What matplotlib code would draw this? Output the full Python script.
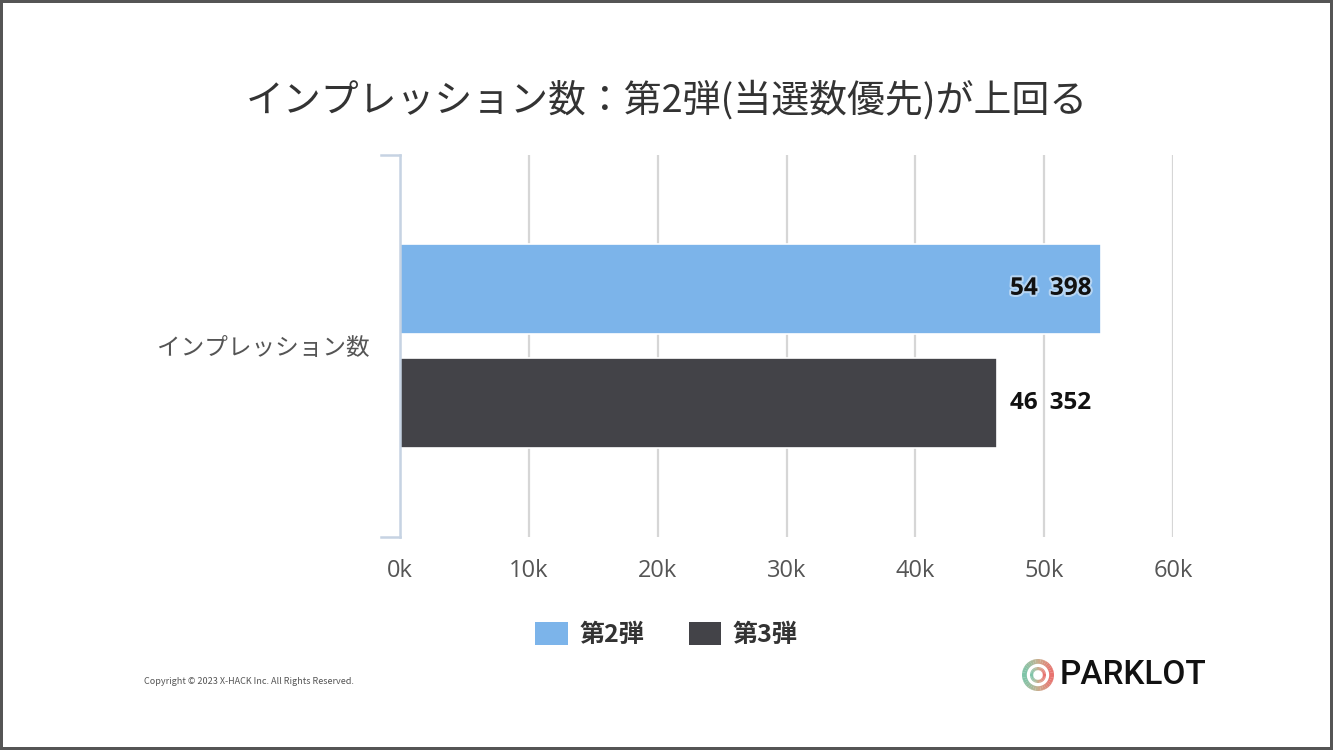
import matplotlib
matplotlib.use('Agg')
import matplotlib.pyplot as plt
import matplotlib.patheffects as pe
from matplotlib.patches import Patch, Wedge
import numpy as np

plt.rcParams['font.family'] = ['Noto Sans CJK JP', 'DejaVu Sans']

# データ
category = 'インプレッション数'
series_names = ['第2弾', '第3弾']
series_values = [54398, 46352]
series_colors = ['#7cb4ea', '#434348']
xticks = [0, 10000, 20000, 30000, 40000, 50000, 60000]
xtick_labels = ['0k', '10k', '20k', '30k', '40k', '50k', '60k']
title = 'インプレッション数：第2弾(当選数優先)が上回る'

fig = plt.figure(figsize=(13.33, 7.5), dpi=100)
fig.patch.set_facecolor('white')
fig.patch.set_edgecolor('#555555')
fig.patch.set_linewidth(3)

ax = fig.add_axes([0.3001, 0.284, 0.5799, 0.5093])

# 棒グラフ
offsets = [-0.3, 0.3]
for name, val, col, off in zip(series_names, series_values, series_colors, offsets):
    ax.barh(off, val, height=0.47, color=col, edgecolor='white', linewidth=1.2, zorder=3)

ax.set_xlim(0, 60000)
ax.set_ylim(1, -1)
ax.set_xticks(xticks)
ax.set_xticklabels(xtick_labels, fontsize=17, color='#555555', family=['Open Sans', 'DejaVu Sans'])
ax.set_yticks([0])
ax.set_yticklabels([category], fontsize=17, color='#555555')
ax.tick_params(axis='x', length=0, pad=16)
ax.tick_params(axis='y', length=0, pad=22)

ax.grid(axis='x', color='#d6d6d6', linewidth=1.6, zorder=0)
for s in ['top', 'right', 'bottom']:
    ax.spines[s].set_visible(False)
ax.spines['left'].set_color('#c6d3e3')
ax.spines['left'].set_linewidth(1.8)
ax.spines['left'].set_zorder(4)
# 軸の上下の短い線
ax.plot([-0.025, 0], [1, 1], transform=ax.transAxes, color='#c6d3e3', lw=1.8, clip_on=False)
ax.plot([-0.025, 0], [0, 0], transform=ax.transAxes, color='#c6d3e3', lw=1.8, clip_on=False)

# 値ラベル（千の位の区切りは広めの空白）
def fmt(v):
    return f'{v:,}'.replace(',', '\u2002')

lab_font = ['Open Sans', 'DejaVu Sans']
ax.annotate(fmt(series_values[0]), xy=(series_values[0], offsets[0]),
            xytext=(-7, 0), textcoords='offset points', ha='right', va='center',
            fontsize=17.5, fontweight='bold', family=lab_font, color='#111111', zorder=5,
            path_effects=[pe.withStroke(linewidth=3, foreground='white', alpha=0.45)])
ax.annotate(fmt(series_values[1]), xy=(series_values[1], offsets[1]),
            xytext=(9, 0), textcoords='offset points', ha='left', va='center',
            fontsize=17.5, fontweight='bold', family=lab_font, color='#111111', zorder=5)

# タイトル
fig.text(0.5, 0.866, title, ha='center', va='center', fontsize=27.3, color='#333333')

# 凡例
handles = [Patch(facecolor=c, edgecolor='none') for c in series_colors]
fig.legend(handles, series_names, loc='center', bbox_to_anchor=(0.5, 0.154), ncol=2,
           frameon=False, prop={'weight': 'bold', 'size': 18},
           handlelength=1.3, handleheight=1.0, handletextpad=0.45, columnspacing=1.8,
           labelcolor='#333333')

# コピーライト
fig.text(0.108, 0.092, 'Copyright © 2023 X-HACK Inc. All Rights Reserved.',
         fontsize=6.5, color='#555555', ha='left', va='center')

# ロゴ
lax = fig.add_axes([1022 / 1333, 1 - 691 / 750, 32 / 1333, 32 / 750])
lax.set_xlim(-1, 1)
lax.set_ylim(-1, 1)
lax.set_aspect('equal')
lax.axis('off')
cmap = matplotlib.colors.LinearSegmentedColormap.from_list('logo', ['#7fc4a8', '#c9b08f', '#e8736f'])
n = 36
for i in range(n):
    a0 = 180 + i * 360 / n
    t = (np.cos(np.deg2rad(a0 + 180 / n)) + 1) / 2
    col = cmap(t)
    lax.add_patch(Wedge((0, 0), 1.0, a0, a0 + 360 / n + 0.5, width=0.3, color=col, lw=0))
    lax.add_patch(Wedge((0, 0), 0.5, a0, a0 + 360 / n + 0.5, width=0.2, color=col, lw=0))
fig.text(1060 / 1333, 1 - 675 / 750, 'PARKLOT', fontsize=24, fontweight='medium',
         family='Roboto', color='#111111', ha='left', va='center')

fig.savefig('out.png', dpi=100, facecolor=fig.get_facecolor(), edgecolor=fig.get_edgecolor())
